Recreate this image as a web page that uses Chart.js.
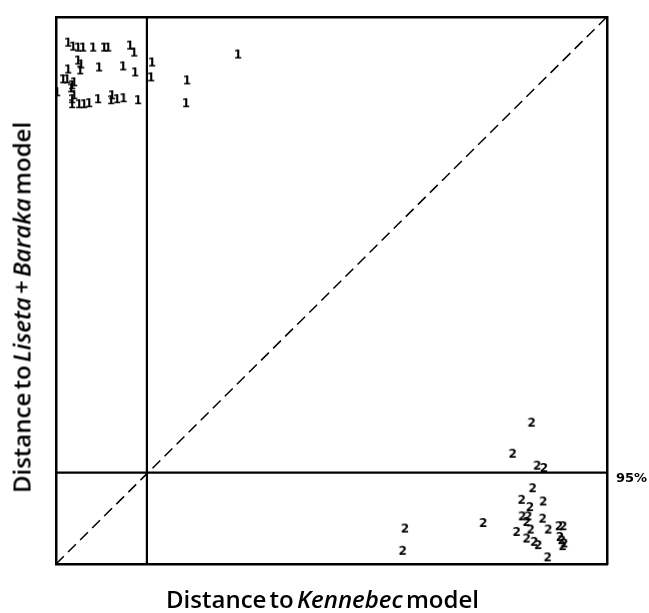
<!DOCTYPE html>
<html><head><meta charset="utf-8">
<script src="https://cdn.jsdelivr.net/npm/chart.js@4.4.1/dist/chart.umd.min.js"></script>
<style>
html,body{margin:0;padding:0;background:#fff;}
#wrap{position:relative;width:649px;height:613px;overflow:hidden;}
#c{position:absolute;left:0;top:0;}
.xt{position:absolute;left:-2px;width:649px;top:582px;line-height:30px;text-align:center;font:600 24px "Open Sans",sans-serif;word-spacing:-3px;color:#000;white-space:nowrap;}
.yt{position:absolute;left:-229px;width:500px;top:291px;line-height:30px;text-align:center;font:600 24px "Open Sans",sans-serif;word-spacing:-3px;color:#000;white-space:nowrap;transform:rotate(-90deg);transform-origin:50% 50%;}
</style>
</head><body>
<div id="wrap">
<canvas id="c" width="649" height="613"></canvas>
<div class="xt">Distance to <i>Kennebec</i> model</div>
<div class="yt">Distance to <i>Liseta</i> + <i>Baraka</i> model</div>
</div>
<script>
// Group 1 (labelled "1"): distance to Kennebec model (x), distance to Liseta + Baraka model (y)
const group1X = [2.18,3.09,3.99,4.90,6.72,8.71,9.44,13.43,14.16,17.42,33.03,3.99,4.54,2.18,4.36,7.80,12.16,14.34,17.24,23.77,1.27,2.00,3.27,2.90,2.72,0.18,3.27,2.90,2.90,4.17,5.08,5.99,7.62,10.16,9.98,11.07,12.25,14.88,23.59];
const group1Y = [95.28,94.56,94.37,94.37,94.37,94.37,94.37,94.74,93.47,91.65,93.10,92.01,91.29,90.38,90.20,90.74,90.93,89.84,88.93,88.38,88.57,88.57,88.02,87.48,86.93,86.21,85.66,84.94,84.03,84.03,84.03,84.21,84.94,85.66,84.76,84.94,85.12,84.76,84.21];
// Group 2 (labelled "2")
const group2X = [86.33,82.89,87.35,88.57,86.52,84.52,86.03,88.44,84.63,85.72,85.43,88.33,83.61,86.15,85.43,86.81,87.53,89.35,91.29,92.07,91.47,91.78,92.25,91.96,89.24,77.55,63.34,62.92];
const group2Y = [25.83,20.15,17.97,17.55,13.85,11.74,10.40,11.43,8.71,8.71,7.68,8.29,5.86,6.30,4.66,4.05,3.45,6.30,6.90,6.90,4.95,4.36,3.76,3.27,1.22,7.50,6.48,2.41];
// 95% thresholds
const thresholdX = 16.5;
const thresholdY = 16.7;
const thresholdLabel = '95%';
const thresholdLabelPos = 15.6;
const groupLabels = ['1','2'];

function labelImg(t){
  const c=document.createElement('canvas'); c.width=14; c.height=14;
  const g=c.getContext('2d');
  g.font='bold 12px "DejaVu Sans", sans-serif';
  g.textAlign='center'; g.textBaseline='middle'; g.fillStyle='#000';
  g.fillText(t,7,7.5);
  return c;
}
const pts = (xs,ys)=>xs.map((x,i)=>({x:x,y:ys[i]}));

const frame = {display:true,color:'#000',width:2.5};
function hiddenAxis(pos, axis, horiz){
  return {type:'linear',position:pos,axis:axis,min:0,max:100,
    grid:{display:false,drawTicks:false},border:frame,ticks:{display:false},
    afterFit:s=>{ if(horiz) s.height=0; else s.width=0; }};
}

new Chart(document.getElementById('c'),{
  type:'scatter',
  data:{datasets:[
    {label:groupLabels[0],data:pts(group1X,group1Y),pointStyle:labelImg(groupLabels[0]),pointRadius:7},
    {label:groupLabels[1],data:pts(group2X,group2Y),pointStyle:labelImg(groupLabels[1]),pointRadius:7},
    {label:'diag',data:[{x:0,y:0},{x:100,y:100}],showLine:true,borderColor:'#000',borderWidth:1.5,borderDash:[11,6],pointRadius:0},
    {label:'vline',data:[{x:thresholdX,y:0},{x:thresholdX,y:100}],showLine:true,borderColor:'#000',borderWidth:2.2,pointRadius:0},
    {label:'hline',data:[{x:0,y:thresholdY},{x:100,y:thresholdY}],showLine:true,borderColor:'#000',borderWidth:2.2,pointRadius:0}
  ]},
  options:{
    responsive:false,animation:false,
    layout:{padding:{left:56,top:13,right:0,bottom:49}},
    plugins:{legend:{display:false},tooltip:{enabled:false}},
    scales:{
      x:hiddenAxis('bottom','x',true),
      x2:hiddenAxis('top','x',true),
      y:hiddenAxis('left','y',false),
      y2:{type:'linear',position:'right',axis:'y',min:0,max:100,
        grid:{display:false,drawTicks:false},border:frame,
        ticks:{display:true,padding:9,autoSkip:false,color:'#000',font:{family:'"DejaVu Sans", sans-serif',weight:'bold',size:13},callback:()=>thresholdLabel},
        afterBuildTicks:s=>{s.ticks=[{value:thresholdLabelPos}];},
        afterFit:s=>{s.width=42;}}
    }
  }
});
</script>
</body></html>
